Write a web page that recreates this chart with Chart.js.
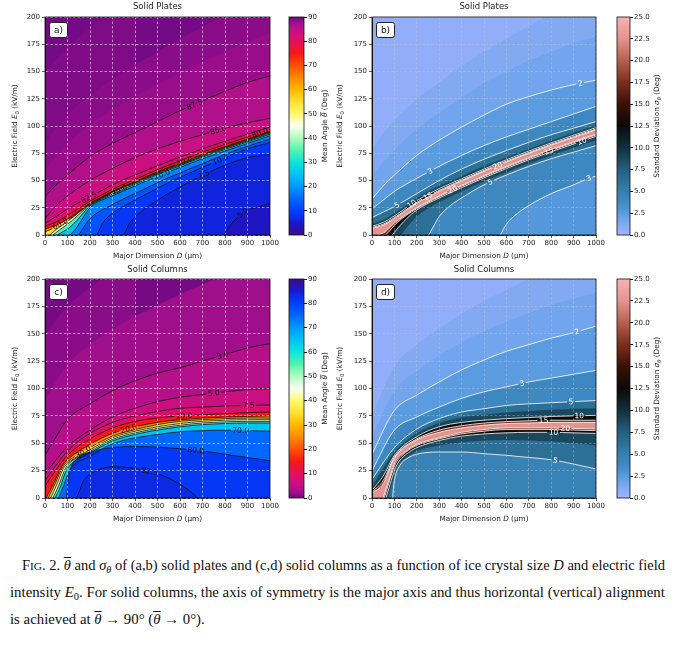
<!DOCTYPE html>
<html>
<head>
<meta charset="utf-8">
<script src="https://cdn.jsdelivr.net/npm/chart.js@4.4.1/dist/chart.umd.min.js"></script>
<style>
  body { margin: 0; background: #fff; width: 680px; height: 645px; position: relative; overflow: hidden; }
  canvas { position: absolute; }
  .cap { position: absolute; font-family: "Liberation Serif", serif; font-size: 14px; line-height: 16px; white-space: nowrap; transform-origin: 0 0; color: #111; }
  .sc { font-size: 0.78em; }
  .sb { font-size: 0.7em; position: relative; top: 0.3em; }
  .ob { text-decoration: overline; }
</style>
</head>
<body>
<canvas id="pa"></canvas><canvas id="ca"></canvas>
<canvas id="pb"></canvas><canvas id="cb"></canvas>
<canvas id="pc"></canvas><canvas id="cc"></canvas>
<canvas id="pd"></canvas><canvas id="cd"></canvas>

<div class="cap" id="cap1" style="left:22px;top:558px">F<span class="sc">IG</span>. 2. <span class="ob"><i>θ</i></span> and <i>σ</i><span class="sb"><i>θ</i></span> of (a,b) solid plates and (c,d) solid columns as a function of ice crystal size <i>D</i> and electric field</div>
<div class="cap" id="cap2" style="left:10px;top:585px">intensity <i>E</i><span class="sb">0</span>. For solid columns, the axis of symmetry is the major axis and thus horizontal (vertical) alignment</div>
<div class="cap" id="cap3" style="left:10px;top:612px">is achieved at <span class="ob"><i>θ</i></span> → 90° (<span class="ob"><i>θ</i></span> → 0°).</div>

<script>
// contour lines: [D (µm), E0 (kV/m)]

// (a) solid plates, mean angle
const aLevels = [89.5, 89, 88.5, 87.5, 85, 82.5, 80, 70, 60, 50, 40, 30, 20, 15, 10, 7.5, 5];
const aLines = [
  [[0,150],[100,172],[200,190],[300,205],[400,218]],
  [[0,85],[100,110],[200,128],[300,143],[400,156],[500,168],[600,180],[700,191],[800,202],[900,212],[1000,222]],
  [[0,60],[100,84],[200,101],[300,115],[400,127],[500,138],[600,149],[700,159],[800,168],[900,177],[1000,185]],
  [[0,35],[50,46],[100,55],[200,72],[300,84],[400,94],[500,104],[600,114],[700,123],[800,132],[900,140],[1000,146]],
  [[0,15],[50,27],[100,36],[200,50],[300,61],[400,71],[500,79],[600,86],[700,92],[800,98],[900,103],[1000,107]],
  [[0,11],[50,17],[100,24],[200,35],[300,46],[400,55],[500,63.5],[600,71.5],[700,79],[800,86],[900,92.5],[1000,99]],
  [[0,8],[50,12],[100,18],[200,31],[300,42],[400,51],[500,60],[600,68],[700,76],[800,83],[900,90],[1000,97]],
  [[0,5.5],[50,9],[100,14.5],[200,29],[300,40],[400,49],[500,58],[600,66],[700,74],[800,81],[900,88],[1000,95]],
  [[0,3],[40,6.5],[67,10],[100,13.5],[200,28.5],[300,39.5],[400,48.5],[500,57.5],[600,65.5],[700,73.5],[800,80.5],[900,87.5],[1000,94.5]],
  [[20,0],[50,5],[80,9.5],[100,12.5],[200,28],[300,39],[400,48],[500,57],[600,65],[700,73],[800,80],[900,87],[1000,94]],
  [[35,0],[60,4],[90,8.5],[110,11.5],[200,27.4],[300,38.4],[400,47.4],[500,56.4],[600,64.4],[700,72.4],[800,79.4],[900,86.4],[1000,93.4]],
  [[55,0],[80,3],[110,7],[140,13],[200,26.5],[300,37.5],[400,46.5],[500,55.5],[600,63.5],[700,71.5],[800,78.5],[900,85.5],[1000,92.5]],
  [[110,0],[130,4],[160,13],[200,25],[300,36],[400,45],[500,54],[600,62],[700,70],[800,77],[900,84],[1000,91]],
  [[150,0],[175,8],[200,15],[300,28],[400,38],[500,48],[600,57],[700,65.5],[800,74],[900,81.5],[1000,88]],
  [[230,0],[260,12],[300,20],[400,32],[500,43],[600,53],[700,62],[800,71],[900,79],[1000,85]],
  [[350,0],[380,12],[420,20],[500,32],[600,44],[700,55],[800,64],[900,71],[1000,74]],
  [[795,0],[820,8],[850,15],[884,21],[950,26],[1000,29]]
];
const aShadeOnly = [89.5, 89, 88.5];
const aLabels = [[87.5,665],[85,770],[82.5,195],[80,955],[70,620],[60,68],[40,330],[20,520],[10,780],[7.5,705],[5,880]];

// (c) solid columns, mean angle
const cLevels = [1, 1.5, 3, 5, 7.5, 10, 20, 30, 40, 50, 60, 70, 80, 82.5];
const cLines = [
  [[0,150],[100,175],[200,192],[300,206],[400,218]],
  [[0,90],[100,122],[200,140],[300,154],[400,166],[500,176],[600,186],[700,195],[800,203],[900,210],[1000,217]],
  [[0,39],[50,56],[100,72],[200,86],[300,98],[400,107],[500,114],[600,119],[700,125],[800,131],[900,137],[1000,141]],
  [[0,22],[50,35],[100,47],[200,62],[300,74],[400,82],[500,88],[600,92],[700,94.5],[800,97],[900,99],[1000,100]],
  [[0,16],[50,30],[100,43],[200,59],[300,69],[400,75],[500,79],[600,82],[700,83],[800,84],[900,84.5],[1000,85]],
  [[0,11],[50,26],[100,39],[200,54],[300,64],[400,70],[500,73],[600,75],[700,76],[800,77],[900,78],[1000,78.5]],
  [[5,0],[40,14],[75,29],[100,35],[200,49],[300,59],[400,65],[500,69],[600,71.5],[700,73],[800,74],[900,74.5],[1000,75]],
  [[15,0],[45,13],[78,28],[100,33],[200,46],[300,56.5],[400,62.5],[500,67],[600,70],[700,71.5],[800,72.5],[900,73],[1000,73]],
  [[25,0],[52,12],[82,27],[100,31.5],[200,44],[300,55],[400,61],[500,65],[600,68],[700,70],[800,71],[900,71.5],[1000,71.5]],
  [[35,0],[60,11],[86,25],[100,30],[200,42.5],[300,53.5],[400,59.5],[500,63.5],[600,66.5],[700,68.5],[800,69.5],[900,70],[1000,70]],
  [[45,0],[68,10],[90,23],[105,28.5],[200,41],[300,52],[400,58],[500,62],[600,65],[700,67],[800,68],[900,68.5],[1000,68.5]],
  [[60,0],[80,10],[98,20],[115,27],[200,38],[300,49.5],[400,55],[500,58],[600,60.5],[700,61.5],[800,62],[900,61.5],[1000,61]],
  [[95,0],[100,10],[105,20],[115,28],[150,37],[200,42],[300,46],[400,47],[500,46.5],[600,45],[700,43],[800,40],[900,37],[1000,34]],
  [[141,0],[170,15],[220,24],[300,28.5],[400,27],[470,24],[550,18],[620,10],[680,0]]
];
const cShadeOnly = [1, 1.5];
const cLabels = [[3,790],[5,750],[7.5,905],[10,618],[20,372],[30,170],[70,870],[80,670],[82.5,465]];

// (b) solid plates, standard deviation: contours above and below the ridge
const bUpperLevels = [1, 1.5, 2, 3, 5, 7.5, 10, 15, 20];
const bUpperLines = [
  [[0,80],[100,105],[200,125],[300,140],[400,155],[500,168],[600,180],[700,192],[800,203],[900,213],[1000,222]],
  [[0,55],[100,78],[200,97],[300,112],[400,126],[500,139],[600,150],[700,160],[800,168],[900,176],[1000,182]],
  [[0,33],[50,45],[100,55],[200,73],[300,87],[400,99],[500,110],[600,120],[700,127],[800,133],[900,138],[1000,142]],
  [[0,24],[50,32],[100,40],[200,52],[300,63],[400,73],[500,82],[600,90],[700,97],[800,104],[900,111],[1000,118]],
  [[0,16],[50,21],[100,26],[200,38],[300,50],[400,60.5],[500,69.5],[600,77.5],[700,85],[800,92],[900,98],[1000,104]],
  [[0,10],[50,14],[100,20],[200,34],[300,45],[400,54],[500,63],[600,71],[700,79],[800,86.5],[900,93.5],[1000,100.5]],
  [[0,8],[50,11.5],[100,17.5],[200,31.5],[300,42.5],[400,51.5],[500,60.5],[600,69],[700,77],[800,84.5],[900,91.5],[1000,98.5]],
  [[0,7],[50,10],[100,16],[200,30],[300,41],[400,50.3],[500,59.3],[600,67.8],[700,75.8],[800,83.3],[900,90.3],[1000,97.3]],
  [[0,6],[50,9],[100,15],[200,29],[300,40],[400,49.5],[500,58.5],[600,67],[700,75],[800,82.5],[900,89.5],[1000,96.5]]
];
const bLowerLevels = [20, 15, 10, 7.5, 5, 3];
const bLowerLines = [
  [[30,0],[60,3],[100,11],[200,25],[300,36],[400,45.5],[500,54.5],[600,63],[700,71],[800,78.5],[900,85.5],[1000,92.5]],
  [[60,0],[80,4],[105,10],[200,24.2],[300,35.2],[400,44.7],[500,53.7],[600,62.2],[700,70.2],[800,77.7],[900,84.7],[1000,91.7]],
  [[90,0],[110,5],[140,12],[200,23],[300,34],[400,43.5],[500,52.5],[600,61],[700,69],[800,76.5],[900,83.5],[1000,90.5]],
  [[130,0],[160,8],[200,17],[300,30],[400,40],[500,49],[600,57.5],[700,65.5],[800,73],[900,80],[1000,87]],
  [[253,0],[280,10],[300,17],[350,27],[400,34],[500,46],[600,55],[700,63],[800,70],[900,76],[1000,82]],
  [[573,0],[600,10],[650,20],[700,27],[800,38],[900,46],[967,52],[1000,54]]
];
const bShadeOnly = [1, 1.5, 7.5];
const bUpperLabels = [[2,930],[3,260],[5,112],[10,178],[15,250],[20,560]];
const bLowerLabels = [[20,360],[15,790],[10,937],[5,528],[3,967]];

// (d) solid columns, standard deviation
const dUpperLevels = [1, 1.5, 2, 3, 5, 7.5, 10, 15, 20];
const dUpperLines = [
  [[0,75],[100,120],[200,140],[300,155],[400,168],[500,180],[600,190],[700,200],[800,208],[900,215],[1000,222]],
  [[0,55],[100,98],[200,116],[300,130],[400,142],[500,152],[600,161],[700,169],[800,176],[900,182],[1000,188]],
  [[0,40],[100,80],[200,94],[300,106],[400,117],[500,126],[600,134],[700,140],[800,146],[900,151],[1000,157]],
  [[0,25],[100,62],[200,74],[300,83],[400,91],[500,97],[600,101.5],[700,106],[800,109.5],[900,113],[1000,116.5]],
  [[0,17],[100,46],[200,63],[300,72.5],[400,78.5],[500,81.5],[600,84.5],[700,86],[800,87],[900,88],[1000,89]],
  [[0,10],[50,27],[100,42],[200,59],[300,68.5],[400,73.5],[500,76],[600,78],[700,79.5],[800,80.5],[900,81.5],[1000,82]],
  [[0,7],[50,20],[100,39],[200,56],[300,65],[400,69],[500,71],[600,72.5],[700,73.5],[800,74.5],[900,75],[1000,75.5]],
  [[0,5.5],[50,16],[100,37.5],[200,54],[300,62],[400,66],[500,68.5],[600,69.8],[700,70.5],[800,71],[900,71],[1000,71]],
  [[0,4.5],[50,13],[100,36.5],[200,53],[300,60],[400,64],[500,66.5],[600,68],[700,68.5],[800,69],[900,69],[1000,69]]
];
const dLowerLevels = [20, 15, 10, 7.5, 5];
const dLowerLines = [
  [[50,0],[65,10],[84,22],[103,33],[150,42.5],[200,49],[300,55],[400,60],[500,62.5],[600,64],[700,64],[800,64],[900,63.5],[1000,63]],
  [[55,0],[70,10],[88,22],[107,32],[150,41.5],[200,48],[300,54],[400,58.5],[500,61],[600,62.5],[700,62.5],[800,62.5],[900,62],[1000,61.5]],
  [[62,0],[77,10],[95,22],[113,31],[150,39.5],[200,46],[300,52.5],[400,56.5],[500,58.5],[600,59.5],[700,60],[800,60],[900,59.5],[1000,59]],
  [[70,0],[85,10],[100,20],[118,30],[160,38],[200,43],[300,48],[400,51],[500,52.5],[600,53],[700,52.5],[800,51.5],[900,50],[1000,48]],
  [[92,0],[96,10],[104,20],[125,30],[160,36.5],[200,40],[300,42],[400,42],[500,40.5],[600,39],[700,37],[800,35],[900,31],[1000,26.5]]
];
const dShadeOnly = [1, 1.5, 7.5];
const dUpperLabels = [[2,915],[3,670],[5,888],[10,925],[15,766]];
const dLowerLabels = [[20,863],[10,811],[5,818]];

// colour maps
const meanStops = [[0,'#3c0b8c'],[5,'#1818d0'],[7.5,'#0830ec'],[10,'#0040ff'],[15,'#0068ff'],[20,'#0098ff'],[25,'#00c4f4'],[30,'#10e4dc'],[35,'#50f4b0'],[40,'#b0fcc0'],[45,'#f8fff0'],[50,'#fff870'],[55,'#ffe030'],[60,'#ffb800'],[65,'#ff8800'],[70,'#ff5000'],[75,'#f41818'],[80,'#e4105c'],[82.5,'#d41078'],[85,'#c01088'],[87.5,'#a40e8c'],[90,'#700a84']];
const sdStops = [[0,'#a0b2ff'],[1,'#88acf6'],[2,'#6aa2ea'],[3,'#4b94d4'],[4,'#3d88c0'],[5,'#3580b0'],[7.5,'#25607e'],[10,'#12303e'],[12.5,'#0a0a0a'],[15,'#3a1005'],[17.5,'#7a2d1d'],[20,'#b5604f'],[22.5,'#e5938e'],[25,'#f8b2b2']];

Chart.defaults.font.family = '"DejaVu Sans", sans-serif';

function makeCmap(stops, vmax, flip) {
  const s = stops.map(([v, h]) => [flip ? vmax - v : v, [1, 3, 5].map(i => parseInt(h.substr(i, 2), 16))])
    .sort((p, q) => p[0] - q[0]);
  const css = c => 'rgb(' + c.map(Math.round).join(',') + ')';
  const fn = v => {
    if (v <= s[0][0]) return css(s[0][1]);
    for (let i = 1; i < s.length; i++) {
      if (v <= s[i][0]) {
        const t = (v - s[i - 1][0]) / (s[i][0] - s[i - 1][0]);
        return css(s[i - 1][1].map((c, k) => c + t * (s[i][1][k] - c)));
      }
    }
    return css(s[s.length - 1][1]);
  };
  fn.stops = s.map(([v, c]) => [v, css(c)]);
  fn.vmax = vmax;
  return fn;
}

const cmapPlates = makeCmap(meanStops, 90, false);
const cmapColumns = makeCmap(meanStops, 90, true);
const cmapSd = makeCmap(sdStops, 25, false);

function place(cv, left, top, w, h) {
  cv.width = w; cv.height = h;
  cv.style.left = left + 'px'; cv.style.top = top + 'px';
  cv.style.width = w + 'px'; cv.style.height = h + 'px';
}

function fontOf(p, size) {
  return (p.i ? 'italic ' : '') + (p.sub ? size * 0.72 : size) + 'px "DejaVu Sans"';
}

// centred rich text (italic, subscript, overbar)
function drawRich(ctx, parts, x, y, size) {
  let w = 0;
  parts.forEach(p => { ctx.font = fontOf(p, size); w += ctx.measureText(p.t).width; });
  let cx = x - w / 2;
  ctx.textAlign = 'left';
  ctx.textBaseline = 'middle';
  parts.forEach(p => {
    ctx.font = fontOf(p, size);
    const tw = ctx.measureText(p.t).width;
    ctx.fillText(p.t, cx, y + (p.sub ? size * 0.3 : 0));
    if (p.bar) {
      ctx.fillRect(cx + 0.5, y - size * 0.62, tw, 0.7);
    }
    cx += tw;
  });
}

const xTitleParts = [{t: 'Major Dimension '}, {t: 'D', i: true}, {t: ' (μm)'}];
const yTitleParts = [{t: 'Electric Field '}, {t: 'E', i: true}, {t: '0', sub: true}, {t: ' (kV/m)'}];
const meanParts = [{t: 'Mean Angle '}, {t: 'θ', i: true, bar: true}, {t: ' (Deg)'}];
const sdParts = [{t: 'Standard Deviation '}, {t: 'σ', i: true}, {t: 'θ', i: true, sub: true}, {t: ' (Deg)'}];

const LABEL_FONT = '7.5px "DejaVu Sans"';

function buildPanel(cfg) {
  const cv = document.getElementById(cfg.id);
  place(cv, cfg.left, cfg.top, cfg.w, cfg.h);
  const xy = pts => pts.map(([x, y]) => ({x, y}));
  const datasets = [];
  let order = 1000;
  cfg.passes.forEach(p => {
    p.levels.forEach((lv, i) => {
      const next = i + 1 < p.levels.length ? p.levels[i + 1] : p.end;
      datasets.push({
        data: xy(p.lines[i]), fill: 'start', backgroundColor: cfg.cmap((lv + next) / 2),
        borderColor: 'transparent', borderWidth: 0, pointRadius: 0,
        cubicInterpolationMode: 'monotone', order: order--
      });
    });
  });
  const labelSpecs = [];
  cfg.passes.forEach(p => {
    const idx = {};
    p.levels.forEach((lv, i) => {
      if (cfg.shade.includes(lv)) return;
      idx[lv] = datasets.length;
      datasets.push({
        data: xy(p.lines[i]), fill: false, borderColor: cfg.lineColor, borderWidth: cfg.lineWidth,
        pointRadius: 0, cubicInterpolationMode: 'monotone', order: 0
      });
    });
    p.labels.forEach(([lv, d]) => labelSpecs.push([idx[lv], d, lv]));
  });

  const bg = {
    id: 'bg',
    beforeDraw(chart) {
      const a = chart.chartArea, ctx = chart.ctx;
      ctx.save();
      ctx.fillStyle = cfg.cmap(cfg.bg);
      ctx.fillRect(a.left, a.top, a.right - a.left, a.bottom - a.top);
      ctx.restore();
    }
  };

  // contour labels: locate on the drawn line, cut a gap in it, write the level
  const clabels = {
    id: 'clabels',
    beforeDatasetsDraw(chart) {
      const ctx = chart.ctx;
      ctx.save();
      ctx.font = LABEL_FONT;
      chart.$labels = labelSpecs.map(([di, d, lv]) => {
        const pts = chart.getDatasetMeta(di).data;
        const px = chart.scales.x.getPixelForValue(d);
        let k = 0;
        while (k < pts.length - 2 && pts[k + 1].x < px) k++;
        const p0 = pts[k], p1 = pts[k + 1];
        const t = (px - p0.x) / ((p1.x - p0.x) || 1);
        const text = cfg.fmt(lv);
        return {di, px, py: p0.y + t * (p1.y - p0.y), ang: Math.atan2(p1.y - p0.y, p1.x - p0.x),
                text, w: ctx.measureText(text).width + 3, h: 8};
      });
      ctx.restore();
    },
    beforeDatasetDraw(chart, args) {
      const boxes = (chart.$labels || []).filter(b => b.di === args.index);
      if (!boxes.length) return;
      const ctx = chart.ctx;
      ctx.save();
      ctx.beginPath();
      ctx.rect(0, 0, chart.width, chart.height);
      boxes.forEach(b => {
        const c = Math.cos(b.ang), s = Math.sin(b.ang);
        const corners = [[-b.w / 2, -b.h / 2], [b.w / 2, -b.h / 2], [b.w / 2, b.h / 2], [-b.w / 2, b.h / 2]]
          .map(([u, v]) => [b.px + u * c - v * s, b.py + u * s + v * c]);
        ctx.moveTo(corners[0][0], corners[0][1]);
        corners.slice(1).forEach(([x, y]) => ctx.lineTo(x, y));
        ctx.closePath();
      });
      ctx.clip('evenodd');
      chart.$clipped = args.index;
    },
    afterDatasetDraw(chart, args) {
      if (chart.$clipped === args.index) {
        chart.ctx.restore();
        chart.$clipped = null;
      }
    },
    afterDatasetsDraw(chart) {
      const ctx = chart.ctx, a = chart.chartArea;
      ctx.save();
      ctx.beginPath();
      ctx.rect(a.left, a.top, a.right - a.left, a.bottom - a.top);
      ctx.clip();
      ctx.font = LABEL_FONT;
      ctx.fillStyle = cfg.textColor;
      ctx.textAlign = 'center';
      ctx.textBaseline = 'middle';
      (chart.$labels || []).forEach(b => {
        ctx.save();
        ctx.translate(b.px, b.py);
        ctx.rotate(b.ang);
        ctx.fillText(b.text, 0, 0.5);
        ctx.restore();
      });
      ctx.restore();
    }
  };

  const deco = {
    id: 'deco',
    afterDraw(chart) {
      const ctx = chart.ctx, a = chart.chartArea;
      ctx.save();
      ctx.strokeStyle = '#111';
      ctx.lineWidth = 0.8;
      ctx.strokeRect(a.left, a.top, a.right - a.left, a.bottom - a.top);
      // panel tag
      const bx = a.left + 4.5, by = a.top + 5.5, bw = 18, bh = 15;
      ctx.beginPath();
      ctx.roundRect(bx, by, bw, bh, 2);
      ctx.fillStyle = '#fff';
      ctx.fill();
      ctx.lineWidth = 1;
      ctx.strokeStyle = '#222';
      ctx.stroke();
      ctx.fillStyle = '#111';
      ctx.font = '9px "DejaVu Sans"';
      ctx.textAlign = 'center';
      ctx.textBaseline = 'middle';
      ctx.fillText(cfg.tag, bx + bw / 2, by + bh / 2 + 0.5);
      // title
      ctx.font = '8.5px "DejaVu Sans"';
      ctx.fillStyle = '#222';
      ctx.fillText(cfg.title, (a.left + a.right) / 2, cfg.titleY);
      // axis titles
      drawRich(ctx, xTitleParts, (a.left + a.right) / 2, cfg.xTitleY, 7.3);
      ctx.save();
      ctx.translate(cfg.yTitleX, (a.top + a.bottom) / 2);
      ctx.rotate(-Math.PI / 2);
      drawRich(ctx, yTitleParts, 0, 0, 7.3);
      ctx.restore();
      ctx.restore();
    }
  };

  const tickFont = {size: 7};
  new Chart(cv, {
    type: 'line',
    data: {datasets},
    options: {
      responsive: false, animation: false, events: [],
      layout: {padding: {left: 0, right: cfg.padR, top: cfg.padT, bottom: 0}},
      plugins: {legend: {display: false}, tooltip: {enabled: false}},
      scales: {
        x: {
          type: 'linear', min: 0, max: 1000,
          afterFit: s => { s.height = cfg.xH; },
          ticks: {stepSize: 100, autoSkip: false, maxRotation: 0, font: tickFont, color: '#222', padding: 1,
                  callback: v => String(v)},
          grid: {color: cfg.grid, lineWidth: 0.7, z: 1, tickColor: '#222', tickLength: 3},
          border: {dash: [2.5, 2], color: '#111', z: 1}
        },
        y: {
          type: 'linear', min: 0, max: 200,
          afterFit: s => { s.width = cfg.yW; },
          ticks: {stepSize: 25, autoSkip: false, font: tickFont, color: '#222', padding: 2,
                  callback: v => String(v)},
          grid: {color: cfg.grid, lineWidth: 0.7, z: 1, tickColor: '#222', tickLength: 3},
          border: {dash: [2.5, 2], color: '#111', z: 1}
        }
      }
    },
    plugins: [bg, clabels, deco]
  });
}

function buildColorbar(cfg) {
  const cv = document.getElementById(cfg.id);
  place(cv, cfg.left, cfg.top, cfg.w, cfg.h);
  const bar = {
    id: 'bar',
    afterDraw(chart) {
      const ctx = chart.ctx, a = chart.chartArea, ys = chart.scales.y;
      const g = ctx.createLinearGradient(0, ys.getPixelForValue(cfg.cmap.vmax), 0, ys.getPixelForValue(0));
      cfg.cmap.stops.forEach(([v, c]) => g.addColorStop(1 - v / cfg.cmap.vmax, c));
      ctx.save();
      ctx.fillStyle = g;
      ctx.fillRect(a.left, a.top, a.right - a.left, a.bottom - a.top);
      ctx.strokeStyle = '#111';
      ctx.lineWidth = 0.8;
      ctx.strokeRect(a.left, a.top, a.right - a.left, a.bottom - a.top);
      ctx.fillStyle = '#222';
      ctx.translate(cfg.labelX, (a.top + a.bottom) / 2);
      ctx.rotate(-Math.PI / 2);
      drawRich(ctx, cfg.parts, 0, 0, 7.3);
      ctx.restore();
    }
  };
  new Chart(cv, {
    type: 'line',
    data: {datasets: []},
    options: {
      responsive: false, animation: false, events: [],
      layout: {padding: {left: cfg.padL, right: 0, top: cfg.padT, bottom: cfg.padB}},
      plugins: {legend: {display: false}, tooltip: {enabled: false}},
      scales: {
        x: {type: 'linear', display: false, min: 0, max: 1},
        y: {
          type: 'linear', position: 'right', min: 0, max: cfg.cmap.vmax,
          afterFit: s => { s.width = cfg.yW; },
          ticks: {stepSize: cfg.step, autoSkip: false, font: {size: 7}, color: '#222', padding: 1,
                  callback: v => cfg.step < 5 ? v.toFixed(1) : String(v)},
          grid: {drawOnChartArea: false, tickColor: '#222', tickLength: 3},
          border: {display: false}
        }
      }
    },
    plugins: [bar]
  });
}

const fmtMean = v => v.toFixed(1);
const fmtSd = v => String(v);

buildPanel({id: 'pa', left: 0, top: 0, w: 282, h: 262, padR: 12, padT: 17, yW: 45, xH: 27,
  cmap: cmapPlates, bg: 89.8, shade: aShadeOnly, lineColor: '#111', lineWidth: 0.8, textColor: '#111',
  grid: 'rgba(255,255,255,0.75)', fmt: fmtMean, tag: 'a)', title: 'Solid Plates',
  titleY: 7, xTitleY: 256, yTitleX: 15,
  passes: [{levels: aLevels, lines: aLines, end: 3, labels: aLabels}]});

buildPanel({id: 'pb', left: 334, top: 0, w: 274, h: 262, padR: 12, padT: 17, yW: 38, xH: 27,
  cmap: cmapSd, bg: 0.6, shade: bShadeOnly, lineColor: 'rgba(255,255,255,0.9)', lineWidth: 0.9, textColor: '#fff',
  grid: 'rgba(200,200,200,0.55)', fmt: fmtSd, tag: 'b)', title: 'Solid Plates',
  titleY: 7, xTitleY: 256, yTitleX: 6,
  passes: [{levels: bUpperLevels, lines: bUpperLines, end: 25, labels: bUpperLabels},
           {levels: bLowerLevels, lines: bLowerLines, end: 2.4, labels: bLowerLabels}]});

buildPanel({id: 'pc', left: 0, top: 262, w: 282, h: 262, padR: 12, padT: 17, yW: 45, xH: 26,
  cmap: cmapColumns, bg: 0.3, shade: cShadeOnly, lineColor: '#111', lineWidth: 0.8, textColor: '#111',
  grid: 'rgba(255,255,255,0.75)', fmt: fmtMean, tag: 'c)', title: 'Solid Columns',
  titleY: 8, xTitleY: 257, yTitleX: 15,
  passes: [{levels: cLevels, lines: cLines, end: 84, labels: cLabels}]});

buildPanel({id: 'pd', left: 334, top: 262, w: 274, h: 262, padR: 12, padT: 17, yW: 38, xH: 26,
  cmap: cmapSd, bg: 0.6, shade: dShadeOnly, lineColor: 'rgba(255,255,255,0.9)', lineWidth: 0.9, textColor: '#fff',
  grid: 'rgba(200,200,200,0.55)', fmt: fmtSd, tag: 'd)', title: 'Solid Columns',
  titleY: 8, xTitleY: 257, yTitleX: 6,
  passes: [{levels: dUpperLevels, lines: dUpperLines, end: 25, labels: dUpperLabels},
           {levels: dLowerLevels, lines: dLowerLines, end: 4.2, labels: dLowerLabels}]});

buildColorbar({id: 'ca', left: 285, top: 0, w: 55, h: 262, padL: 4, padT: 17, padB: 27, yW: 36,
  cmap: cmapPlates, step: 10, labelX: 40, parts: meanParts});
buildColorbar({id: 'cb', left: 612, top: 0, w: 68, h: 262, padL: 5, padT: 17, padB: 27, yW: 50,
  cmap: cmapSd, step: 2.5, labelX: 45, parts: sdParts});
buildColorbar({id: 'cc', left: 285, top: 262, w: 55, h: 262, padL: 4, padT: 17, padB: 26, yW: 36,
  cmap: cmapColumns, step: 10, labelX: 40, parts: meanParts});
buildColorbar({id: 'cd', left: 612, top: 262, w: 68, h: 262, padL: 5, padT: 17, padB: 26, yW: 50,
  cmap: cmapSd, step: 2.5, labelX: 45, parts: sdParts});

// fit caption lines to the printed widths
const c1 = document.getElementById('cap1'), c2 = document.getElementById('cap2'), c3 = document.getElementById('cap3');
const s1 = 643 / c1.offsetWidth, s2 = 655 / c2.offsetWidth;
c1.style.transform = 'scaleX(' + s1 + ')';
c2.style.transform = 'scaleX(' + s2 + ')';
c3.style.transform = 'scaleX(' + s2 + ')';
</script>
</body>
</html>
